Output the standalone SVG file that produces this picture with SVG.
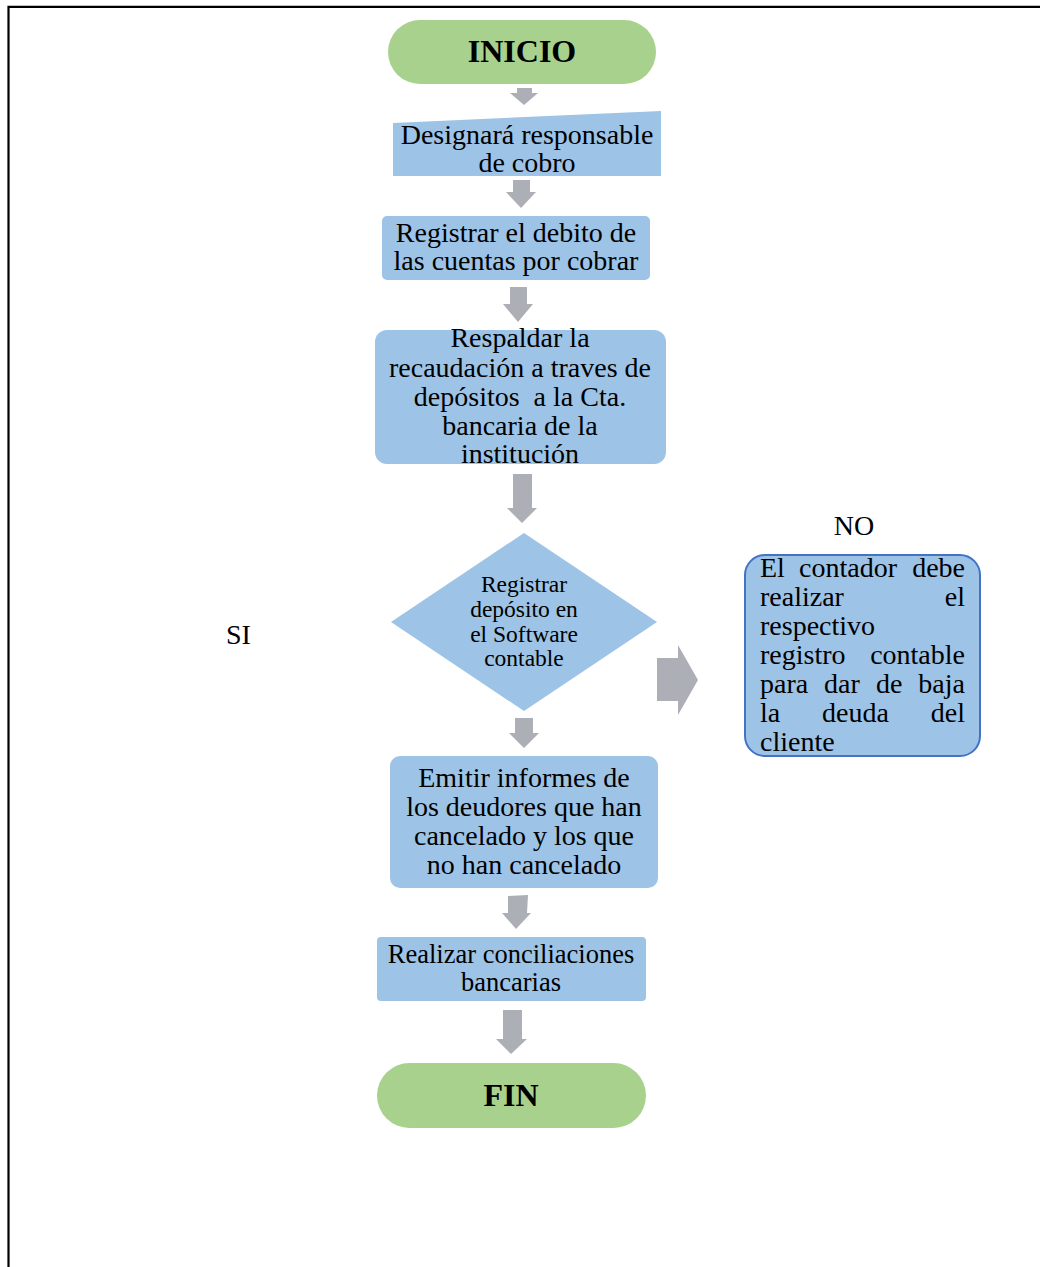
<svg xmlns="http://www.w3.org/2000/svg" width="1040" height="1267" viewBox="0 0 1040 1267">
<style>
.t{font-family:"Liberation Serif","Times New Roman",serif;font-size:28px;fill:#000}
.c{text-anchor:middle}
.e{text-anchor:end}
.b{font-weight:bold;font-size:32px}
.d{font-size:23.5px}
.s{font-size:26.5px}
.box{fill:#9DC3E6}
.term{fill:#A9D18E}
.arr{fill:#ADAFB6}
</style>
<rect width="1040" height="1267" fill="#fff"/>
<g id="border" fill="none" stroke="#000" stroke-width="2.2">
<path d="M8.5 1267 V6.8 H1040"/>
</g>
<g id="connectors">
<polygon class="arr" points="517,88 532,88 532,93 538,93 524,105 510,93 517,93"/>
<polygon class="arr" points="513,180 530,180 530,192 536,192 521,208 506,192 513,192"/>
<polygon class="arr" points="510,287 527,287 527,304 533,304 518,322 503,304 510,304"/>
<polygon class="arr" points="513,474 532,474 532,508 537,508 522,523 507,508 513,508"/>
<polygon class="arr" points="515,718 533,718 533,733 539,733 524,748 509,733 515,733"/>
<polygon class="arr" points="508,896 528,895 527,913 531,913 516,929 502,913 508,913"/>
<polygon class="arr" points="503,1010 522,1010 522,1039 527,1039 511,1054 496,1039 503,1039"/>
<polygon class="arr" points="657,658 678,658 678,645 698,680 678,715 678,701 657,701"/>
</g>
<g id="inicio">
<rect class="term" x="388" y="20" width="268" height="64" rx="32"/>
<text class="t c b" x="522" y="62">INICIO</text>
</g>
<g id="designar">
<polygon class="box" points="393,123 661,111 661,176 393,176"/>
<text class="t c" x="527" y="144">Designará responsable</text>
<text class="t c" x="527" y="172">de cobro</text>
</g>
<g id="registrar-debito">
<rect class="box" x="382" y="216" width="268" height="64" rx="5"/>
<text class="t c" x="516" y="242">Registrar el debito de</text>
<text class="t c" x="516" y="270">las cuentas por cobrar</text>
</g>
<g id="respaldar">
<rect class="box" x="375" y="330" width="291" height="134" rx="12"/>
<text class="t c" x="520" y="347">Respaldar la</text>
<text class="t c" x="520" y="377">recaudación a traves de</text>
<text class="t c" x="520" y="406" xml:space="preserve">depósitos  a la Cta.</text>
<text class="t c" x="520" y="435">bancaria de la</text>
<text class="t c" x="520" y="463">institución</text>
</g>
<g id="decision">
<polygon class="box" points="524,533 657,622 524,711 391,622"/>
<text class="t c d" x="524" y="592">Registrar</text>
<text class="t c d" x="524" y="617">depósito en</text>
<text class="t c d" x="524" y="642">el Software</text>
<text class="t c d" x="524" y="666">contable</text>
</g>
<g id="label-si">
<text class="t" x="226" y="644">SI</text>
</g>
<g id="label-no">
<text class="t c" x="854" y="535">NO</text>
</g>
<g id="contador">
<rect x="745" y="555" width="235" height="201" rx="20" fill="#9DC3E6" stroke="#4472C4" stroke-width="2"/>
<text class="t" x="760" y="577">El</text>
<text class="t" x="799" y="577">contador</text>
<text class="t e" x="965" y="577">debe</text>
<text class="t" x="760" y="606">realizar</text>
<text class="t e" x="965" y="606">el</text>
<text class="t" x="760" y="635">respectivo</text>
<text class="t" x="760" y="664">registro</text>
<text class="t e" x="965" y="664">contable</text>
<text class="t" x="760" y="693">para</text>
<text class="t" x="824" y="693">dar</text>
<text class="t" x="876" y="693">de</text>
<text class="t e" x="965" y="693">baja</text>
<text class="t" x="760" y="722">la</text>
<text class="t" x="822" y="722">deuda</text>
<text class="t e" x="965" y="722">del</text>
<text class="t" x="760" y="751">cliente</text>
</g>
<g id="emitir">
<rect class="box" x="390" y="756" width="268" height="132" rx="10"/>
<text class="t c" x="524" y="787">Emitir informes de</text>
<text class="t c" x="524" y="816">los deudores que han</text>
<text class="t c" x="524" y="845">cancelado y los que</text>
<text class="t c" x="524" y="874">no han cancelado</text>
</g>
<g id="conciliaciones">
<rect class="box" x="377" y="937" width="269" height="64" rx="4"/>
<text class="t c s" x="511" y="963">Realizar conciliaciones</text>
<text class="t c s" x="511" y="991">bancarias</text>
</g>
<g id="fin">
<rect class="term" x="377" y="1063" width="269" height="65" rx="32.5"/>
<text class="t c b" x="511" y="1106">FIN</text>
</g>
</svg>
